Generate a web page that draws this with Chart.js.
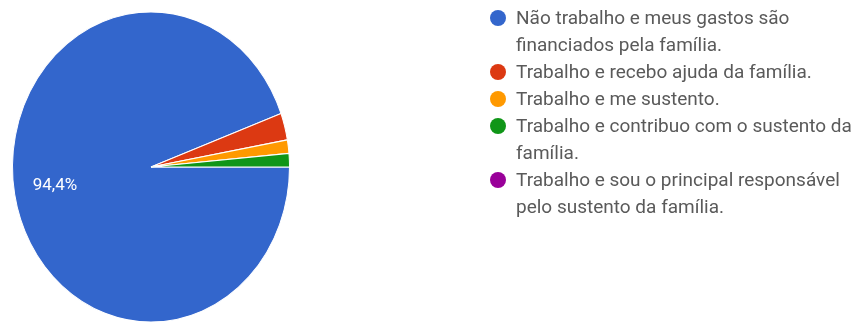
<!DOCTYPE html>
<html>
<head>
<meta charset="utf-8">
<script src="https://cdn.jsdelivr.net/npm/chart.js@4.4.1/dist/chart.umd.min.js"></script>
<style>
  html, body { margin: 0; padding: 0; background: #ffffff; }
  #wrap { position: relative; width: 852px; height: 324px; overflow: hidden; }
  #pie { position: absolute; left: 0; top: 0; }
  #legend {
    position: absolute; left: 490px; top: 5px; margin: 0; padding: 0; list-style: none;
    font-family: Roboto, "Noto Sans", sans-serif; font-size: 19px; color: #5a5a5a;
    line-height: 26.5px;
  }
  #legend li { position: relative; padding-left: 26px; margin-bottom: 0.8px; white-space: nowrap; }
  #legend .dot {
    position: absolute; left: 0; top: 5px; width: 16px; height: 16px; border-radius: 50%;
  }
</style>
</head>
<body>
<div id="wrap">
  <canvas id="pie" width="852" height="324"></canvas>
  <ul id="legend"></ul>
</div>
<script>
// Answer options (each entry is one wrapped line of the legend text)
const categories = [
  ['Não trabalho e meus gastos são', 'financiados pela família.'],
  ['Trabalho e recebo ajuda da família.'],
  ['Trabalho e me sustento.'],
  ['Trabalho e contribuo com o sustento da', 'família.'],
  ['Trabalho e sou o principal responsável', 'pelo sustento da família.']
];
// Share of responses, in percent
const shares = [94.4, 2.8, 1.4, 1.4, 0];
const sliceColors = ['#3366cc', '#dc3912', '#ff9900', '#109618', '#990099'];

const fmt = v => v.toFixed(1).replace('.', ',') + '%';

// The pie is drawn slightly taller than wide
const Y_STRETCH = 1.12;
const stretchPie = {
  id: 'stretchPie',
  beforeDatasetsDraw(chart) {
    const a = chart.chartArea;
    const cx = (a.left + a.right) / 2, cy = (a.top + a.bottom) / 2;
    const ctx = chart.ctx;
    ctx.save();
    ctx.translate(cx, cy);
    ctx.scale(1, Y_STRETCH);
    ctx.translate(-cx, -cy);
  },
  afterDatasetsDraw(chart) {
    chart.ctx.restore();
  }
};

// Percentage label inside slices large enough to hold it
const sliceLabels = {
  id: 'sliceLabels',
  afterDatasetsDraw(chart) {
    const ctx = chart.ctx;
    const meta = chart.getDatasetMeta(0);
    const total = shares.reduce((s, v) => s + v, 0);
    meta.data.forEach((arc, i) => {
      const pct = shares[i] / total * 100;
      if (pct < 10) return;
      const p = arc.getProps(['x', 'y', 'startAngle', 'endAngle', 'outerRadius'], true);
      const mid = (p.startAngle + p.endAngle) / 2;
      const r = p.outerRadius * 0.69;
      const x = p.x + Math.cos(mid) * r;
      const y = p.y + Math.sin(mid) * r * Y_STRETCH;
      ctx.save();
      ctx.fillStyle = '#ffffff';
      ctx.font = '17px Roboto, "Noto Sans", sans-serif';
      ctx.textAlign = 'center';
      ctx.textBaseline = 'middle';
      ctx.fillText(fmt(pct), x - 2, y);
      ctx.restore();
    });
  }
};

const chart = new Chart(document.getElementById('pie'), {
  type: 'pie',
  data: {
    labels: categories,
    datasets: [{
      data: shares,
      backgroundColor: sliceColors,
      borderColor: '#ffffff',
      borderWidth: 1
    }]
  },
  options: {
    responsive: false,
    animation: false,
    rotation: 90,
    layout: { padding: { left: 12, right: 562, top: 28, bottom: 18 } },
    plugins: { legend: { display: false }, tooltip: { enabled: false } }
  },
  plugins: [stretchPie, sliceLabels]
});

// Legend built from the chart's own labels and colours
const ul = document.getElementById('legend');
chart.data.labels.forEach((lines, i) => {
  const li = document.createElement('li');
  const dot = document.createElement('span');
  dot.className = 'dot';
  dot.style.background = sliceColors[i];
  li.appendChild(dot);
  li.appendChild(document.createTextNode(lines[0]));
  for (let k = 1; k < lines.length; k++) {
    li.appendChild(document.createElement('br'));
    li.appendChild(document.createTextNode(lines[k]));
  }
  ul.appendChild(li);
});
</script>
</body>
</html>
